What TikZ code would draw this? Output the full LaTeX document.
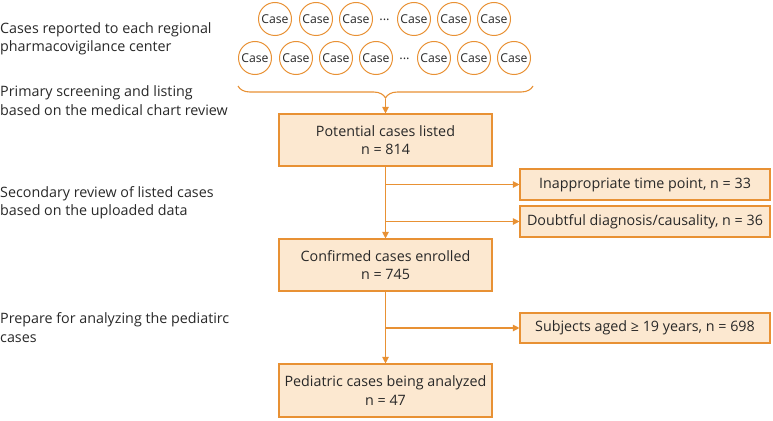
\documentclass[tikz,border=0pt]{standalone}
\usepackage{fontspec}
\setmainfont{Open Sans}
\usetikzlibrary{arrows.meta,decorations.pathreplacing}
\definecolor{oc}{RGB}{232,145,52}
\definecolor{ofill}{RGB}{252,232,208}
\definecolor{tx}{RGB}{40,40,40}
\begin{document}
\begin{tikzpicture}[x=1pt,y=-1pt,
  txt/.style={font=\fontsize{14.3}{18.5}\selectfont, text=tx},
  mainbox/.style={txt, draw=oc, fill=ofill, line width=1.1pt, minimum width=213pt, minimum height=52pt, align=center, inner sep=2pt},
  sidebox/.style={txt, draw=oc, fill=ofill, line width=1.1pt, minimum width=250pt, minimum height=31pt, inner sep=2pt},
  casec/.style={circle, draw=oc, line width=1pt, minimum size=33pt, inner sep=0pt, font=\fontsize{12.2}{13}\selectfont, text=tx},
  dots/.style={font=\fontsize{13}{14}\selectfont, text=tx},
  lefttxt/.style={txt, anchor=west, align=left, inner sep=0pt},
  arr/.style={draw=oc, line width=1.1pt, -{Triangle[length=6.5pt,width=6.5pt]}},
  conn/.style={draw=oc, line width=1.1pt}
]
\useasboundingbox (0,0) rectangle (773,420);

% left descriptions
\node[lefttxt] (l1) at (0,39) {Cases reported to each regional\\pharmacovigilance center};
\node[lefttxt] (l2) at (0,100.5) {Primary screening and listing\\based on the medical chart review};
\node[lefttxt] (l3) at (0,202.5) {Secondary review of listed cases\\based on the uploaded data};
\node[lefttxt] (l4) at (0,327.5) {Prepare for analyzing the pediatirc\\cases};

% case circles row 1
\node[casec] (a1) at (275,19) {Case};
\node[casec] (a2) at (316,19) {Case};
\node[casec] (a3) at (356,19) {Case};
\node[dots] (ad) at (384.5,20) {...};
\node[casec] (a4) at (414,19) {Case};
\node[casec] (a5) at (454,19) {Case};
\node[casec] (a6) at (494,19) {Case};
% row 2
\node[casec] (b1) at (255,58) {Case};
\node[casec] (b2) at (296,58) {Case};
\node[casec] (b3) at (336,58) {Case};
\node[casec] (b4) at (376,58) {Case};
\node[dots] (bd) at (404.5,59) {...};
\node[casec] (b5) at (434,58) {Case};
\node[casec] (b6) at (474,58) {Case};
\node[casec] (b7) at (514,58) {Case};

% brace
\coordinate (br1) at (238,86);
\coordinate (br2) at (533,86);
\draw[conn, decorate, decoration={brace, amplitude=12pt, mirror}] (br1) -- (br2);
\coordinate (tip) at (385.5,99);

% main boxes
\node[mainbox] (m1) at (385.5,140) {Potential cases listed\\n = 814};
\node[mainbox] (m2) at (385.5,265) {Confirmed cases enrolled\\n = 745};
\node[mainbox, minimum height=53pt] (m3) at (385.5,390.5) {Pediatric cases being analyzed\\n = 47};

% side boxes
\node[sidebox] (s1) at (645,184.5) {Inappropriate time point, n = 33};
\node[sidebox] (s2) at (645,221.5) {Doubtful diagnosis/causality, n = 36};
\node[sidebox, minimum height=30pt] (s3) at (645,328) {Subjects aged ≥ 19 years, n = 698};

% connectors
\draw[arr] (tip) -- (m1.north);
\draw[arr] (m1.south) -- (m2.north);
\draw[arr] (m2.south) -- (m3.north);
\coordinate (j1) at (s1.west -| m1.south);
\coordinate (j2) at (s2.west -| m1.south);
\coordinate (j3) at (s3.west -| m2.south);
\draw[arr] (j1) -- (s1.west);
\draw[arr] (j2) -- (s2.west);
\draw[arr] (j3) -- (s3.west);
\end{tikzpicture}
\end{document}
